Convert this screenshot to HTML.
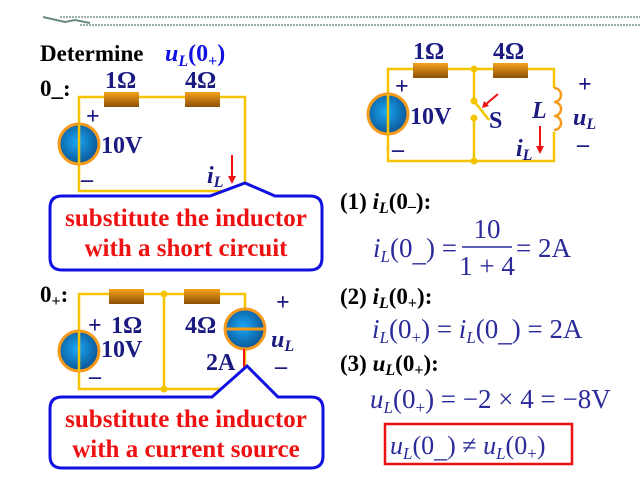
<!DOCTYPE html>
<html><head><meta charset="utf-8"><style>
html,body{margin:0;padding:0;background:#fff;}
svg{display:block;font-family:"Liberation Serif",serif;}
.b{font-weight:bold;font-size:24px;fill:#1a1a80;}
.k{font-weight:bold;font-size:23px;fill:#000;}
.r{font-weight:bold;font-size:25px;fill:#ee1111;}
.m{font-size:27px;fill:#2a2a9a;}
.w{stroke:#f5c400;stroke-width:2.5;fill:none;}
</style></head><body>
<svg width="640" height="480" viewBox="0 0 640 480">
<defs>
<radialGradient id="g" cx="0.45" cy="0.45" r="0.6"><stop offset="0" stop-color="#19a8f5"/><stop offset="1" stop-color="#0b4f8f"/></radialGradient>
<linearGradient id="rg" x1="0" y1="0" x2="0" y2="1"><stop offset="0" stop-color="#f7a21c"/><stop offset="1" stop-color="#8a5005"/></linearGradient>
</defs>
<line x1="60" y1="17" x2="640" y2="17" stroke="#9bb0a8" stroke-width="2" stroke-dasharray="2 1"/>
<line x1="80" y1="25" x2="640" y2="25" stroke="#9bb0a8" stroke-width="2" stroke-dasharray="2 1"/>
<path d="M43 17 L65 22 L75 20 L90 23" stroke="#6a8a80" stroke-width="2" fill="none"/>

<text x="40" y="61" class="k">Determine</text>
<text x="165" y="61" class="b" style="fill:#1010e0;font-style:italic">u<tspan font-size="16" dy="5">L</tspan><tspan dy="-5" font-style="normal">(0</tspan><tspan font-size="16" dy="5" font-style="normal">+</tspan><tspan dy="-5" font-style="normal">)</tspan></text>

<text x="40" y="96" class="k">0_:</text>
<rect x="79" y="97" width="166" height="94" class="w"/>
<rect x="104" y="92" width="35" height="15" fill="url(#rg)"/>
<rect x="185" y="92" width="35" height="15" fill="url(#rg)"/>
<text x="105" y="88" class="b">1Ω</text>
<text x="185" y="88" class="b">4Ω</text>
<circle cx="79" cy="144" r="20" fill="url(#g)" stroke="#f59a1a" stroke-width="3"/>
<line x1="79" y1="124" x2="79" y2="164" class="w"/>
<text x="86" y="124" class="b">+</text>
<text x="101" y="153" class="b">10V</text>
<text x="81" y="187" class="b">–</text>
<text x="207" y="183" class="b" style="font-style:italic">i<tspan font-size="16" dy="4">L</tspan></text>
<line x1="232" y1="155" x2="232" y2="178" stroke="#e11" stroke-width="2"/>
<path d="M228 176 L232 184 L236 176Z" fill="#e11"/>
<path d="M62 196 L210 196 L245 183 L275 196 L310 196 Q322 196 322 208 L322 258 Q322 270 310 270 L62 270 Q50 270 50 258 L50 208 Q50 196 62 196Z" fill="#fff" stroke="#1010e0" stroke-width="3"/>
<text x="186" y="226" class="r" text-anchor="middle">substitute the inductor</text>
<text x="186" y="256" class="r" text-anchor="middle">with a short circuit</text>

<rect x="388" y="69" width="166" height="92" class="w"/>
<line x1="474" y1="69" x2="474" y2="101" class="w"/>
<line x1="474" y1="118" x2="474" y2="161" class="w"/>
<line x1="474" y1="101" x2="489" y2="120" class="w"/>
<circle cx="474" cy="69" r="3.5" fill="#f5c400"/><circle cx="474" cy="161" r="3.5" fill="#f5c400"/>
<circle cx="474" cy="101" r="3.5" fill="#f5c400"/><circle cx="474" cy="118" r="3.5" fill="#f5c400"/>
<line x1="498" y1="94" x2="485" y2="105" stroke="#e11" stroke-width="2"/>
<path d="M482 108 L484 101 L489 106Z" fill="#e11"/>
<text x="489" y="128" class="b">S</text>
<rect x="413" y="63" width="35" height="15" fill="url(#rg)"/>
<rect x="493" y="63" width="35" height="15" fill="url(#rg)"/>
<text x="413" y="59" class="b">1Ω</text>
<text x="493" y="59" class="b">4Ω</text>
<circle cx="388" cy="114" r="20" fill="url(#g)" stroke="#f59a1a" stroke-width="3"/>
<line x1="388" y1="94" x2="388" y2="134" class="w"/>
<text x="395" y="94" class="b">+</text>
<text x="410" y="124" class="b">10V</text>
<text x="392" y="157" class="b">–</text>
<rect x="550" y="88" width="10" height="44" fill="#fff"/>
<path d="M554 88 a7 7 0 0 1 0 14 a7 7 0 0 1 0 14 a7 7 0 0 1 0 14" stroke="#f59a1a" stroke-width="2.5" fill="none"/>
<text x="532" y="118" class="b" style="font-style:italic">L</text>
<text x="578" y="92" class="b">+</text>
<text x="573" y="125" class="b" style="font-style:italic">u<tspan font-size="16" dy="4">L</tspan></text>
<text x="577" y="152" class="b">–</text>
<text x="516" y="156" class="b" style="font-style:italic">i<tspan font-size="16" dy="4">L</tspan></text>
<line x1="540" y1="126" x2="540" y2="148" stroke="#e11" stroke-width="2"/>
<path d="M536 146 L540 154 L544 146Z" fill="#e11"/>

<text x="40" y="302" class="k">0<tspan font-size="16" dy="4">+</tspan><tspan dy="-4">:</tspan></text>
<rect x="79" y="294" width="166" height="95" class="w"/>
<line x1="164" y1="294" x2="164" y2="389" class="w"/>
<circle cx="164" cy="294" r="3.5" fill="#f5c400"/><circle cx="164" cy="389" r="3.5" fill="#f5c400"/>
<rect x="109" y="289" width="35" height="15" fill="url(#rg)"/>
<rect x="184" y="289" width="36" height="15" fill="url(#rg)"/>
<circle cx="79" cy="351" r="20" fill="url(#g)" stroke="#f59a1a" stroke-width="3"/>
<line x1="79" y1="331" x2="79" y2="371" class="w"/>
<text x="88" y="333" class="b">+</text>
<text x="111" y="333" class="b">1Ω</text>
<text x="185" y="333" class="b">4Ω</text>
<text x="101" y="357" class="b">10V</text>
<text x="89" y="384" class="b">–</text>
<circle cx="245" cy="329" r="20" fill="url(#g)" stroke="#f59a1a" stroke-width="3"/>
<line x1="225" y1="329" x2="265" y2="329" stroke="#f59a1a" stroke-width="3"/>
<text x="276" y="310" class="b">+</text>
<text x="271" y="347" class="b" style="font-style:italic">u<tspan font-size="16" dy="4">L</tspan></text>
<text x="275" y="374" class="b">–</text>
<text x="206" y="370" class="b">2A</text>
<line x1="244" y1="349" x2="244" y2="382" stroke="#e11" stroke-width="2"/>
<path d="M240 380 L244 388 L248 380Z" fill="#e11"/>
<path d="M62 397 L212 397 L247 366 L278 397 L311 397 Q323 397 323 409 L323 456 Q323 468 311 468 L62 468 Q50 468 50 456 L50 409 Q50 397 62 397Z" fill="#fff" stroke="#1010e0" stroke-width="3"/>
<text x="186" y="427" class="r" text-anchor="middle">substitute the inductor</text>
<text x="186" y="457" class="r" text-anchor="middle">with a current source</text>

<text x="340" y="209" class="k">(1) <tspan font-style="italic">i</tspan><tspan font-size="16" dy="4" font-style="italic">L</tspan><tspan dy="-4">(0</tspan><tspan font-size="16" dy="2">–</tspan><tspan dy="-2">):</tspan></text>
<text x="373" y="257" class="m"><tspan font-style="italic">i</tspan><tspan font-size="17" dy="5" font-style="italic">L</tspan><tspan dy="-5">(0</tspan><tspan dy="4">_</tspan><tspan dy="-4">) =</tspan></text>
<text x="487" y="238" class="m" text-anchor="middle">10</text>
<line x1="462" y1="247" x2="512" y2="247" stroke="#2a2a9a" stroke-width="1.5"/>
<text x="487" y="275" class="m" text-anchor="middle">1 + 4</text>
<text x="516" y="257" class="m">= 2A</text>
<text x="340" y="304" class="k">(2) <tspan font-style="italic">i</tspan><tspan font-size="16" dy="4" font-style="italic">L</tspan><tspan dy="-4">(0</tspan><tspan font-size="16" dy="4">+</tspan><tspan dy="-4">):</tspan></text>
<text x="372" y="338" class="m"><tspan font-style="italic">i</tspan><tspan font-size="17" dy="5" font-style="italic">L</tspan><tspan dy="-5">(0</tspan><tspan font-size="17" dy="5">+</tspan><tspan dy="-5">) = </tspan><tspan font-style="italic">i</tspan><tspan font-size="17" dy="5" font-style="italic">L</tspan><tspan dy="-5">(0</tspan><tspan dy="3">_</tspan><tspan dy="-3">) = 2A</tspan></text>
<text x="340" y="371" class="k">(3) <tspan font-style="italic">u</tspan><tspan font-size="16" dy="4" font-style="italic">L</tspan><tspan dy="-4">(0</tspan><tspan font-size="16" dy="4">+</tspan><tspan dy="-4">):</tspan></text>
<text x="370" y="408" class="m"><tspan font-style="italic">u</tspan><tspan font-size="17" dy="5" font-style="italic">L</tspan><tspan dy="-5">(0</tspan><tspan font-size="17" dy="5">+</tspan><tspan dy="-5">) = −2 × 4 = −8V</tspan></text>
<rect x="385" y="424" width="187" height="40" fill="none" stroke="#e11" stroke-width="2.5"/>
<text x="390" y="454" class="m" style="font-size:26px"><tspan font-style="italic">u</tspan><tspan font-size="17" dy="5" font-style="italic">L</tspan><tspan dy="-5">(0</tspan><tspan dy="3">_</tspan><tspan dy="-3">) ≠ </tspan><tspan font-style="italic">u</tspan><tspan font-size="17" dy="5" font-style="italic">L</tspan><tspan dy="-5">(0</tspan><tspan font-size="17" dy="5">+</tspan><tspan dy="-5">)</tspan></text>
</svg>
</body></html>
